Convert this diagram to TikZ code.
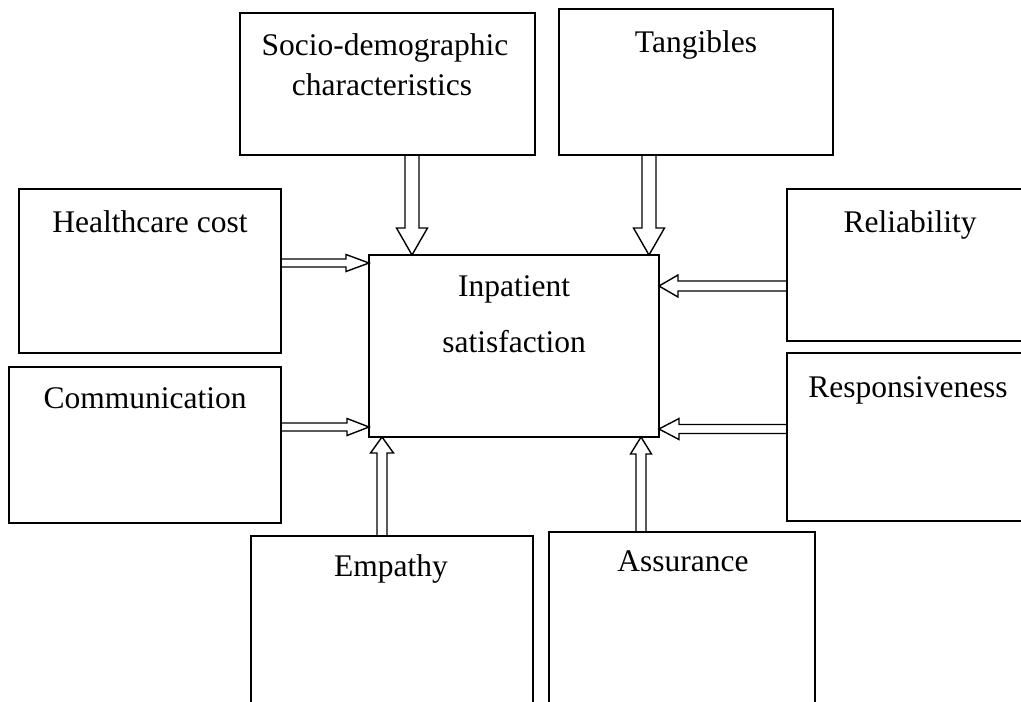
\documentclass[tikz,border=0pt]{standalone}
\usepackage{fontspec}
\setmainfont{Liberation Serif}
\usetikzlibrary{calc}
\tikzset{
 box/.style={draw, line width=1.6pt, inner sep=0pt, outer sep=0pt, rectangle},
 lbl/.style={anchor=base, inner sep=0pt, font=\fontsize{31.5}{38}\selectfont},
 blk/.style n args={3}{line width=1.4pt, line join=miter,
   to path={let \p1=(\tikztostart), \p2=(\tikztotarget), \p3=($(\p2)!#3!(\p1)$) in
     ($(\p1)!#1!90:(\p2)$) -- ($(\p3)!#1!90:(\p2)$) -- ($(\p3)!#2!90:(\p2)$) -- (\p2)
     -- ($(\p3)!#2!-90:(\p2)$) -- ($(\p3)!#1!-90:(\p2)$) -- ($(\p1)!#1!-90:(\p2)$)}},
}
\begin{document}
\begin{tikzpicture}[x=1pt,y=-1pt]
\useasboundingbox (0,0) rectangle (1021,702);
\clip (0,0) rectangle (1021,702);
% boxes
\node[box, minimum width=295pt, minimum height=142pt] (socio)  at (387.5,84) {};
\node[box, minimum width=274pt, minimum height=146pt] (tang)   at (696,82) {};
\node[box, minimum width=262pt, minimum height=164pt] (health) at (150,271) {};
\node[box, minimum width=272pt, minimum height=156pt] (comm)   at (145,445) {};
\node[box, minimum width=290pt, minimum height=182pt] (center) at (514,346) {};
\node[box, minimum width=248pt, minimum height=152pt] (reli)   at (911,265) {};
\node[box, minimum width=248pt, minimum height=168pt] (resp)   at (911,437) {};
\node[box, minimum width=282pt, minimum height=224pt] (emp)    at (392,648) {};
\node[box, minimum width=266pt, minimum height=228pt] (assur)  at (682,646) {};
% labels
\node[lbl] (t1a) at (385,55) {Socio-demographic};
\node[lbl] (t1b) at (382,95) {characteristics};
\node[lbl] (t2)  at (696,52) {Tangibles};
\node[lbl] (t3)  at (150,232) {Healthcare cost};
\node[lbl] (t4)  at (145,408) {Communication};
\node[lbl] (t5)  at (910,232) {Reliability};
\node[lbl] (t6)  at (908,397) {Responsiveness};
\node[lbl] (t7a) at (514,296) {Inpatient};
\node[lbl] (t7b) at (514,352) {satisfaction};
\node[lbl] (t8)  at (391,576) {Empathy};
\node[lbl] (t9)  at (683,571) {Assurance};
% arrow ends
\coordinate (a1s) at ([xshift=24.5pt]socio.south);  \coordinate (a1e) at (a1s |- center.north);
\coordinate (a2s) at ([xshift=-47pt]tang.south);    \coordinate (a2e) at (a2s |- center.north);
\coordinate (a3s) at ([yshift=8pt]health.east);     \coordinate (a3e) at (a3s -| center.west);
\coordinate (a4s) at ([yshift=18pt]comm.east);      \coordinate (a4e) at (a4s -| center.west);
\coordinate (a5s) at ([yshift=-21pt]reli.west);     \coordinate (a5e) at (a5s -| center.east);
\coordinate (a6s) at ([yshift=8pt]resp.west);       \coordinate (a6e) at (a6s -| center.east);
\coordinate (a7s) at ([xshift=-10pt]emp.north);     \coordinate (a7e) at (a7s |- center.south);
\coordinate (a8s) at ([xshift=-41pt]assur.north);   \coordinate (a8e) at (a8s |- center.south);
% arrows
\draw[blk={7pt}{15.5pt}{27pt}] (a1s) to (a1e);
\draw[blk={7pt}{15.5pt}{27pt}] (a2s) to (a2e);
\draw[blk={4pt}{8.5pt}{23pt}] (a3s) to (a3e);
\draw[blk={4pt}{8.5pt}{22pt}] (a4s) to (a4e);
\draw[blk={5pt}{11pt}{19pt}] (a5s) to (a5e);
\draw[blk={4.5pt}{10.5pt}{20pt}] (a6s) to (a6e);
\draw[blk={5pt}{11.5pt}{16pt}] (a7s) to (a7e);
\draw[blk={5pt}{10.5pt}{17pt}] (a8s) to (a8e);
\end{tikzpicture}
\end{document}
